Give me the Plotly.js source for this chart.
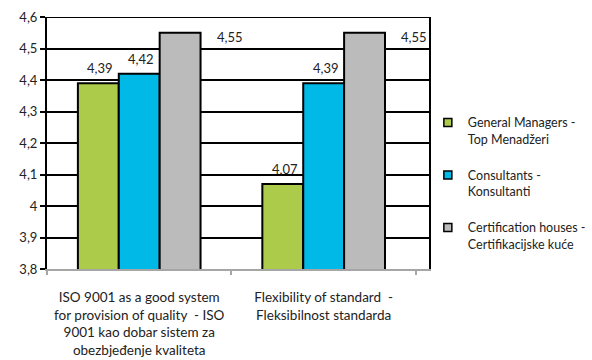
<!DOCTYPE html>
<html>
<head>
<meta charset="utf-8">
<script src="https://cdn.plot.ly/plotly-3.0.1.min.js"></script>
<style>
  html, body { margin: 0; padding: 0; background: #fff; }
  #chart { width: 592px; height: 360px; }
</style>
</head>
<body>
<div id="chart"></div>
<script>
// Survey averages per respondent group
const categories = [
  "ISO 9001 as a good system<br>for provision of quality  - ISO<br>9001 kao dobar sistem za<br>obezbjeđenje kvaliteta",
  "Flexibility of standard  -<br>Fleksibilnost standarda"
];
const seriesNames = [
  "General Managers -<br>Top Menadžeri",
  "Consultants -<br>Konsultanti",
  "Certification houses -<br>Certifikacijske kuće"
];
const managers = [4.39, 4.07];
const consultants = [4.42, 4.39];
const certHouses = [4.55, 4.55];
const yTicks = [3.8, 3.9, 4.0, 4.1, 4.2, 4.3, 4.4, 4.5, 4.6];

const seriesValues = [managers, consultants, certHouses];
const colors = ["#adcb4a", "#00b9e6", "#bbbbbb"];
const FONT = "Lato, 'Open Sans', sans-serif";
const yMin = yTicks[0], yMax = yTicks[yTicks.length - 1];
const bargap = 0.335;
const barW = (1 - bargap) / seriesValues.length;

const traces = [];
seriesValues.forEach((vals, i) => {
  traces.push({
    type: "bar",
    x: categories,
    y: vals,
    name: seriesNames[i],
    showlegend: false,
    marker: { color: colors[i], line: { color: "#000", width: 2 } },
    hoverinfo: "skip"
  });
  // small square legend keys
  traces.push({
    type: "scatter",
    mode: "markers",
    x: [null],
    y: [null],
    name: seriesNames[i],
    legendgroup: "g" + i,
    marker: { symbol: "square", size: 8, color: colors[i], line: { color: "#000", width: 1.5 } }
  });
});

// value labels: above the bar, or beside it when it would run past the top
const annotations = [];
seriesValues.forEach((vals, i) => {
  vals.forEach((v, c) => {
    const center = c + (i - (seriesValues.length - 1) / 2) * barW;
    const txt = v.toFixed(2).replace(".", ",");
    const beside = v > yMax - 0.1;
    annotations.push({
      x: beside ? center + barW / 2 : center,
      y: v,
      xref: "x", yref: "y",
      text: txt,
      showarrow: false,
      xanchor: beside ? "left" : "center",
      yanchor: "middle",
      xshift: beside ? 14 : 2,
      yshift: beside ? -4 : 15,
      font: { family: FONT, size: 13, color: "#222" }
    });
  });
});

const layout = {
  width: 592,
  height: 360,
  margin: { l: 47, r: 163, t: 17, b: 91, autoexpand: false },
  paper_bgcolor: "#fff",
  plot_bgcolor: "#fff",
  separators: ", ",
  barmode: "group",
  bargap: bargap,
  bargroupgap: 0,
  showlegend: true,
  font: { family: FONT, size: 13, color: "#222" },
  xaxis: {
    type: "category",
    tickson: "boundaries",
    ticks: "outside",
    ticklen: 4,
    tickwidth: 2,
    tickcolor: "#a6a6a6",
    tickangle: 0,
    showline: true,
    linecolor: "#a6a6a6",
    linewidth: 2,
    showgrid: false,
    ticklabelstandoff: 15,
    tickfont: { family: FONT, size: 13.5, color: "#222" },
    fixedrange: true
  },
  yaxis: {
    range: [yMin, yMax],
    tickvals: yTicks,
    ticks: "outside",
    ticklen: 5,
    tickwidth: 2,
    tickcolor: "#000",
    showline: true,
    mirror: true,
    linecolor: "#000",
    linewidth: 2,
    showgrid: true,
    gridcolor: "#000",
    gridwidth: 2,
    zeroline: false,
    tickfont: { family: FONT, size: 13, color: "#222" },
    fixedrange: true
  },
  // top edge gridline at the last tick value
  shapes: [{
    type: "line", xref: "paper", x0: 0, x1: 1,
    yref: "y", y0: yMax, y1: yMax,
    line: { color: "#000", width: 2 }
  }],
  legend: {
    x: 0.997,
    xanchor: "left",
    y: 0.34,
    yanchor: "middle",
    valign: "top",
    tracegroupgap: 17,
    font: { family: FONT, size: 12.5, color: "#222" },
    bgcolor: "rgba(0,0,0,0)"
  },
  annotations: annotations
};

Plotly.newPlot("chart", traces, layout, { displayModeBar: false, staticPlot: true });
</script>
</body>
</html>
